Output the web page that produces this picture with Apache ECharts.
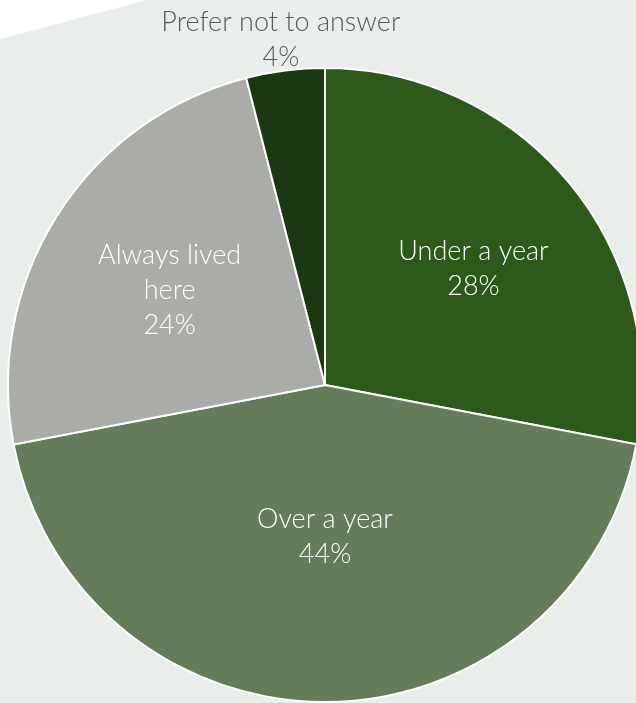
<!DOCTYPE html>
<html><head><meta charset="utf-8">
<script src="https://cdn.jsdelivr.net/npm/echarts@6/dist/echarts.min.js"></script>
<style>html,body{margin:0;padding:0;background:#ffffff}#c{width:636px;height:703px}</style>
</head><body><div id="c"></div>
<script>
const categories = ['Under a year', 'Over a year', 'Always lived\nhere', 'Prefer not to answer'];
const values = [28, 44, 24, 4];
const colors = ['#2d5a1b', '#647c5a', '#aaaca7', '#1c3810'];
// label nudges (best-fit placement like the source)
const labelShift = [[24, -13], [0, -10], [-19, -8], [5, 4]];

const chart = echarts.init(document.getElementById('c'), null, {renderer: 'canvas'});
const data = categories.map((name, i) => ({
  name, value: values[i],
  itemStyle: {color: colors[i]},
  label: i === 3 ? {position: 'outside', color: '#595959'} : {position: 'inside', color: '#ffffff'}
}));
chart.setOption({
  backgroundColor: '#eaeeea',
  animation: false,
  graphic: [{type: 'polygon', shape: {points: [[0,0],[147,0],[0,39]]}, style: {fill: '#ffffff'}, z: -1}],
  series: [{
    type: 'pie',
    center: [325, 385],
    radius: 317,
    startAngle: 90,
    clockwise: true,
    avoidLabelOverlap: false,
    data,
    itemStyle: {borderColor: '#ffffff', borderWidth: 2},
    label: {
      show: true,
      fontFamily: 'Lato',
      fontWeight: 300,
      fontSize: 27,
      lineHeight: 35,
      formatter: p => p.name + '\n' + Math.round(p.percent) + '%'
    },
    labelLine: {show: false, length: 35, length2: 0},
    labelLayout: p => {
      const s = labelShift[p.dataIndex];
      const o = {dx: s[0], dy: s[1]};
      if (p.dataIndex === 3) { o.align = 'center'; o.verticalAlign = 'middle'; }
      return o;
    }
  }]
});
</script></body></html>
